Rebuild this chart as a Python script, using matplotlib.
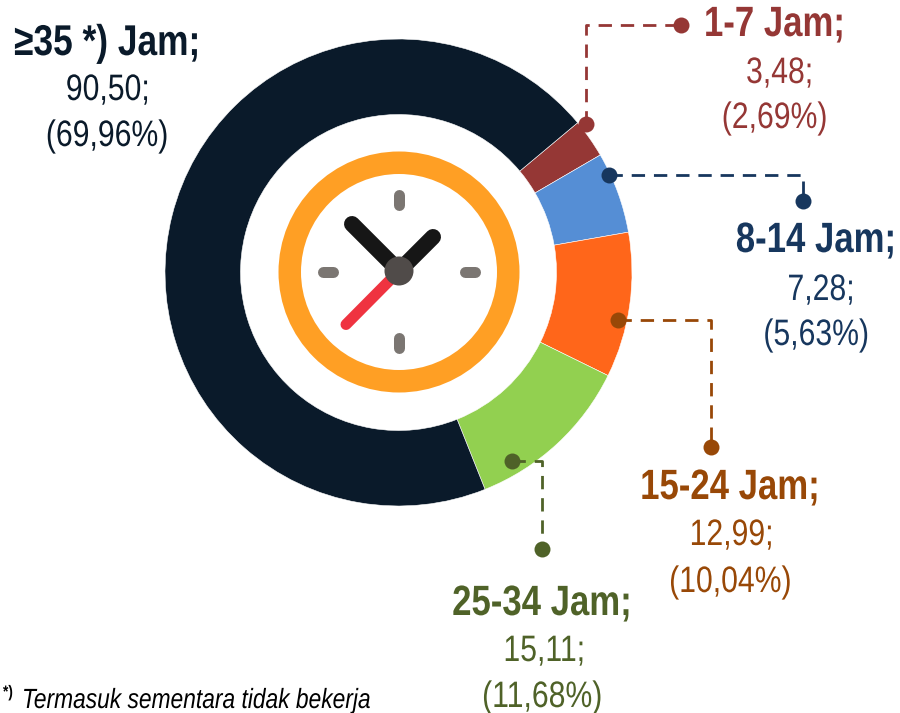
import matplotlib
matplotlib.use("Agg")
import matplotlib.pyplot as plt
from matplotlib.patches import Circle
from matplotlib.patheffects import AbstractPathEffect
from matplotlib.transforms import Affine2D

# Data
categories = ["1-7 Jam;", "8-14 Jam;", "15-24 Jam;", "25-34 Jam;", "\u226535 *) Jam;"]
values = [3.48, 7.28, 12.99, 15.11, 90.50]
value_labels = ["3,48;", "7,28;", "12,99;", "15,11;", "90,50;"]
pct_labels = ["(2,69%)", "(5,63%)", "(10,04%)", "(11,68%)", "(69,96%)"]
slice_colors = ["#953735", "#558ED5", "#FF661A", "#92D050", "#0A1A2A"]
text_colors = ["#953735", "#17375E", "#984807", "#4F6228", "#0A1A2A"]
footnote = "Termasuk sementara tidak bekerja"

W, H = 900, 713
plt.rcParams["font.family"] = ["Liberation Sans"]

fig = plt.figure(figsize=(W / 100, H / 100), dpi=100, facecolor="white")
ax = fig.add_axes([0, 0, 1, 1])

def Y(y):
    return H - y


class Narrow(AbstractPathEffect):
    """Squeeze glyphs horizontally about a pixel x, as no narrow font is installed."""
    def __init__(self, x0, ratio=0.82):
        super().__init__()
        self.x0, self.ratio = x0, ratio

    def draw_path(self, renderer, gc, tpath, affine, rgbFace=None):
        t = affine + Affine2D().translate(-self.x0, 0).scale(self.ratio, 1).translate(self.x0, 0)
        renderer.draw_path(gc, tpath, t, rgbFace)


# Donut
cx, cy, R, r_in = 398.5, 272.5, 233.5, 158
ax.pie(values, colors=slice_colors, startangle=39.9, counterclock=False,
       center=(cx, Y(cy)), radius=R, frame=False,
       wedgeprops=dict(width=R - r_in, edgecolor="white", linewidth=0.4))
ax.set_xlim(0, W)
ax.set_ylim(0, H)
ax.set_aspect("equal")
ax.axis("off")

# Clock icon
ccx, ccy = 399, 272
ax.add_patch(Circle((ccx, Y(ccy)), 120.5, fc="#FF9F24", ec="none", zorder=3))
ax.add_patch(Circle((ccx, Y(ccy)), 98, fc="white", ec="none", zorder=4))
def stroke(xs, ys, color, px, z=5):
    ax.plot(xs, [Y(v) for v in ys], color=color, lw=px * 0.72,
            solid_capstyle="round", zorder=z)
tick = "#7B7672"
tick_w = 11
stroke([399, 399], [195, 205], tick, tick_w)
stroke([399, 399], [338, 348], tick, tick_w)
stroke([323, 333], [272, 272], tick, tick_w)
stroke([465, 475], [272, 272], tick, tick_w)
stroke([399, 346], [271, 324.5], "#EF3340", 11, 5)
stroke([399, 352], [271, 224], "#161616", 16, 6)
stroke([399, 433], [271, 237], "#161616", 16, 6)
ax.add_patch(Circle((399, Y(271)), 14.5, fc="#504B49", ec="none", zorder=7))

# Leaders
leaders = [
    ([586, 586, 681], [124, 25, 25]),
    ([609, 803, 803], [175, 175, 201]),
    ([618, 711, 711], [320, 320, 447]),
    ([512, 542, 542], [461, 461, 549]),
]
for (xs, ys), c in zip(leaders, text_colors):
    ax.plot(xs, [Y(v) for v in ys], color=c, lw=2.0, ls=(0, (4.8, 3.2)), zorder=8)
    ax.plot([xs[0], xs[-1]], [Y(ys[0]), Y(ys[-1])], ls="none", marker="o",
            ms=11.5, mfc=c, mec="none", zorder=9)

# Labels: centre x, three baselines, x shift of the value line
positions = [
    (774.5, 36, 83, 128, 5),
    (816, 252, 300, 345, 5),
    (730, 499, 545, 592, 1.5),
    (542, 615, 661, 707, 2),
    (107, 55, 100, 146, 0.5),
]
for (x, y1, y2, y3, dx), cat, val, pct, c in zip(positions, categories, value_labels, pct_labels, text_colors):
    ax.text(x, Y(y1), cat, ha="center", va="baseline", fontsize=31 if cat[0] == "\u2265" else 30.5,
            fontweight="bold", color=c, path_effects=[Narrow(x)])
    ax.text(x + dx, Y(y2), val, ha="center", va="baseline", fontsize=26.5, color=c,
            path_effects=[Narrow(x + dx)])
    ax.text(x, Y(y3), pct, ha="center", va="baseline", fontsize=26.5, color=c,
            path_effects=[Narrow(x)])

# Footnote
ax.text(3, Y(697), "*)", ha="left", va="baseline", fontsize=12, fontweight="bold", color="black",
        path_effects=[Narrow(3)])
ax.text(22, Y(708), footnote, ha="left", va="baseline", fontsize=20, fontstyle="italic", color="black",
        path_effects=[Narrow(22)])

fig.savefig("out.png", dpi=100)
